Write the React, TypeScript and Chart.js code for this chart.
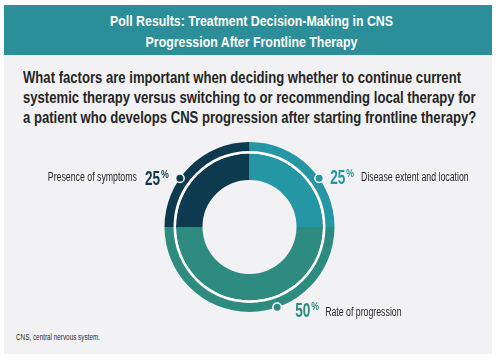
import React, { useEffect, useLayoutEffect, useRef } from "react";
import { Chart, registerables } from "chart.js";

Chart.register(...registerables);

// ---- data ----
const categories = ["Disease extent and location", "Rate of progression", "Presence of symptoms"];
const values = [25, 50, 25];
const colors = ["#2596a3", "#2e8b7f", "#0e3a50"];
const titleLines = ["Poll Results: Treatment Decision-Making in CNS", "Progression After Frontline Therapy"];
const questionLines = [
  "What factors are important when deciding whether to continue current",
  "systemic therapy versus switching to or recommending local therapy for",
  "a patient who develops CNS progression after starting frontline therapy?",
];
const footnote = "CNS, central nervous system.";

const SANS = "'Liberation Sans', Arial, sans-serif";

// label anchor layout (angle in degrees clockwise from 12 o'clock)
const anchorLayout = [
  { angle: 55, side: "right", dx: 11, dy: 6, gap: 7, labelDy: 3 },
  { angle: 161, side: "right", dx: 18, dy: 10, gap: 6, labelDy: 9 },
  { angle: 305, side: "left", dx: 11, dy: 7, gap: 8, labelDy: 3 },
];
const NUM_K = 0.68;
const PCT_K = 0.8;
const LAB_K = 0.73;

function drawScaled(ctx: CanvasRenderingContext2D, text: string, x: number, y: number, k: number) {
  ctx.save();
  ctx.translate(x, y);
  ctx.scale(k, 1);
  ctx.fillText(text, 0, 0);
  ctx.restore();
}

const labelPlugin = {
  id: "pollLabels",
  afterDatasetsDraw(chart: any) {
    const meta = chart.getDatasetMeta(0);
    const arc = meta.data[0];
    if (!arc) return;
    const cx = arc.x;
    const cy = arc.y;
    const R = arc.outerRadius;
    const ctx: CanvasRenderingContext2D = chart.ctx;
    ctx.save();
    categories.forEach((cat, i) => {
      const a = anchorLayout[i];
      const t = ((a.angle - 90) * Math.PI) / 180;
      const px = cx + R * Math.cos(t);
      const py = cy + R * Math.sin(t);
      // dot
      ctx.beginPath();
      ctx.arc(px, py, 5, 0, Math.PI * 2);
      ctx.fillStyle = "#ffffff";
      ctx.fill();
      ctx.beginPath();
      ctx.arc(px, py, 3.5, 0, Math.PI * 2);
      ctx.fillStyle = colors[i];
      ctx.fill();

      const num = String(values[i]);
      ctx.textBaseline = "alphabetic";
      ctx.textAlign = "left";
      const numFont = `bold 20px ${SANS}`;
      const pctFont = `bold 11px ${SANS}`;
      const labFont = `12px ${SANS}`;
      ctx.font = numFont;
      const wNum = ctx.measureText(num).width * NUM_K;
      ctx.font = pctFont;
      const wPct = ctx.measureText("%").width * PCT_K;
      ctx.font = labFont;
      const wLab = ctx.measureText(cat).width * LAB_K;

      let start: number;
      let labelX: number;
      if (a.side === "right") {
        start = px + a.dx;
        labelX = start + wNum + 1 + wPct + a.gap;
      } else {
        start = px - a.dx - wPct - 1 - wNum;
        labelX = start - a.gap - wLab;
      }
      ctx.fillStyle = colors[i];
      ctx.font = numFont;
      drawScaled(ctx, num, start, py + a.dy, NUM_K);
      ctx.font = pctFont;
      drawScaled(ctx, "%", start + wNum + 1, py + a.dy - 7, PCT_K);
      ctx.fillStyle = "#2a2a2a";
      ctx.font = labFont;
      drawScaled(ctx, cat, labelX, py + a.labelDy, LAB_K);
    });
    ctx.restore();
  },
};

// A block of lines squeezed horizontally so the first line spans `target` px
function FitBlock(props: { lines: string[]; target: number; style: React.CSSProperties; origin: string; outer: React.CSSProperties }) {
  const inner = useRef<HTMLDivElement | null>(null);
  const first = useRef<HTMLSpanElement | null>(null);
  useLayoutEffect(() => {
    if (!inner.current || !first.current) return;
    const w = first.current.getBoundingClientRect().width;
    const k = w > 0 ? props.target / w : 1;
    inner.current.style.transform = `scaleX(${k})`;
  }, []);
  return (
    <div style={props.outer}>
      <div ref={inner} style={{ ...props.style, transformOrigin: props.origin, whiteSpace: "nowrap" }}>
        {props.lines.map((l, i) => (
          <div key={i}>
            <span ref={i === 0 ? first : undefined}>{l}</span>
          </div>
        ))}
      </div>
    </div>
  );
}

export default function App() {
  const ref = useRef<HTMLCanvasElement | null>(null);

  useEffect(() => {
    if (!ref.current) return;
    const chart = new Chart(ref.current, {
      type: "doughnut",
      data: {
        labels: categories,
        datasets: [
          { data: values, backgroundColor: colors, borderWidth: 0, weight: 9 } as any,
          { data: [1], backgroundColor: ["#ffffff"], borderWidth: 0, weight: 2.5 } as any,
          { data: values, backgroundColor: colors, borderWidth: 0, weight: 26.5 } as any,
        ],
      },
      options: {
        responsive: false,
        animation: false,
        cutout: "55.3%",
        hoverOffset: 0,
        layout: { padding: { top: 12, bottom: 18, left: 0, right: 0 } },
        plugins: {
          legend: { display: false },
          tooltip: { enabled: false },
        },
        events: [],
      } as any,
      plugins: [labelPlugin],
    });
    return () => chart.destroy();
  }, []);

  return (
    <div style={{ position: "absolute", left: 0, top: 0, width: 499, height: 362, background: "#ffffff", overflow: "hidden" }}>
      <div style={{ position: "absolute", left: 4, top: 5, width: 488, height: 50, background: "#2a8f99" }} />
      <div style={{ position: "absolute", left: 4, top: 55, width: 488, height: 299, background: "#f2f2f5" }} />
      <FitBlock
        lines={titleLines}
        target={283}
        origin="center"
        outer={{ position: "absolute", left: 4, top: 11, width: 495 }}
        style={{
          textAlign: "center",
          color: "#ffffff",
          fontFamily: SANS,
          fontWeight: "bold",
          fontSize: 14.5,
          lineHeight: "20.5px",
        }}
      />
      <FitBlock
        lines={questionLines}
        target={438}
        origin="left"
        outer={{ position: "absolute", left: 23, top: 68 }}
        style={{
          color: "#262626",
          fontFamily: SANS,
          fontWeight: "bold",
          fontSize: 17,
          lineHeight: "20px",
        }}
      />
      <canvas ref={ref} width={499} height={200} style={{ position: "absolute", left: 0, top: 130, width: 499, height: 200 }} />
      <FitBlock
        lines={[footnote]}
        target={84}
        origin="left"
        outer={{ position: "absolute", left: 16, top: 332 }}
        style={{
          color: "#2a2a2a",
          fontFamily: SANS,
          fontSize: 8.5,
          lineHeight: "10px",
        }}
      />
    </div>
  );
}
